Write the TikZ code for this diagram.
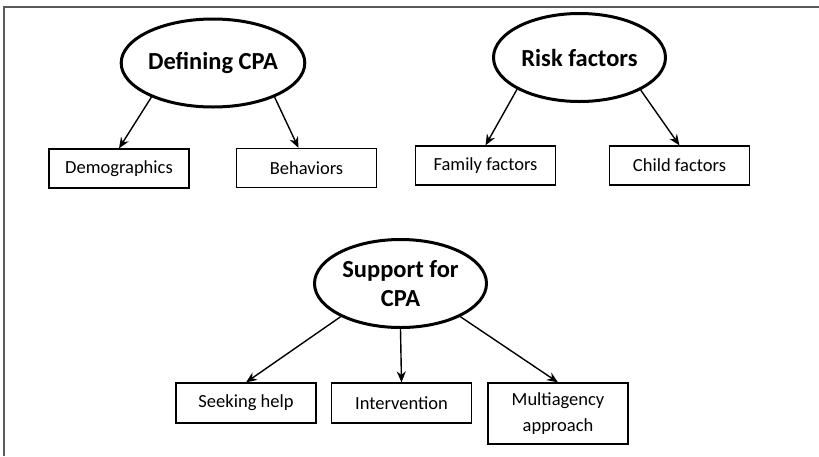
\documentclass[tikz,border=0pt]{standalone}
\usepackage{fontspec}
\setmainfont{Carlito}
\usetikzlibrary{shapes.geometric,arrows.meta,calc}
\begin{document}
\begin{tikzpicture}[x=1pt,y=-1pt,
  topic/.style={ellipse,draw,line width=3pt,minimum width=172pt,minimum height=88pt,inner sep=0pt,
    font=\fontsize{24.5}{29}\selectfont\bfseries,align=center},
  item/.style={rectangle,draw,line width=1.2pt,minimum width=140pt,minimum height=39pt,inner sep=0pt,
    font=\fontsize{18.5}{26}\selectfont,align=center},
  link/.style={line width=1.4pt,-{Stealth[length=11pt,width=9pt]}}]
\useasboundingbox (0,0) rectangle (819,456);
\draw[line width=2pt,draw={rgb,255:red,90;green,90;blue,90}] (3.5,456) -- (3.5,6.5) -- (819,6.5);
\node[topic] (def) at (213,63) {Defining CPA};
\node[topic] (risk) at (579.5,57.5) {Risk factors};
\node[topic] (sup) at (400.5,283.5) {Support for\\CPA};
\node[item] (demo) at (119,168.5) {Demographics};
\node[item] (beh) at (306.5,168) {Behaviors};
\node[item] (fam) at (485.5,165.5) {Family factors};
\node[item] (child) at (679.5,165.5) {Child factors};
\node[item,minimum height=40pt] (seek) at (246,403) {Seeking help};
\node[item,minimum height=40pt] (inter) at (401.5,403) {Intervention};
\node[item,minimum height=61pt] (multi) at (558,413.5) {Multiagency\\approach};
\draw[link] (def.209) -- (demo.north);
\draw[link] (def.331) -- ($(beh.north)+(-8,0)$);
\draw[link] (risk.207) -- (fam.north);
\draw[link] (risk.332) -- (child.north);
\draw[link] (sup.209) -- (seek.north);
\draw[link] (sup.south) -- (inter.north);
\draw[link] (sup.331) -- (multi.north);
\end{tikzpicture}
\end{document}
